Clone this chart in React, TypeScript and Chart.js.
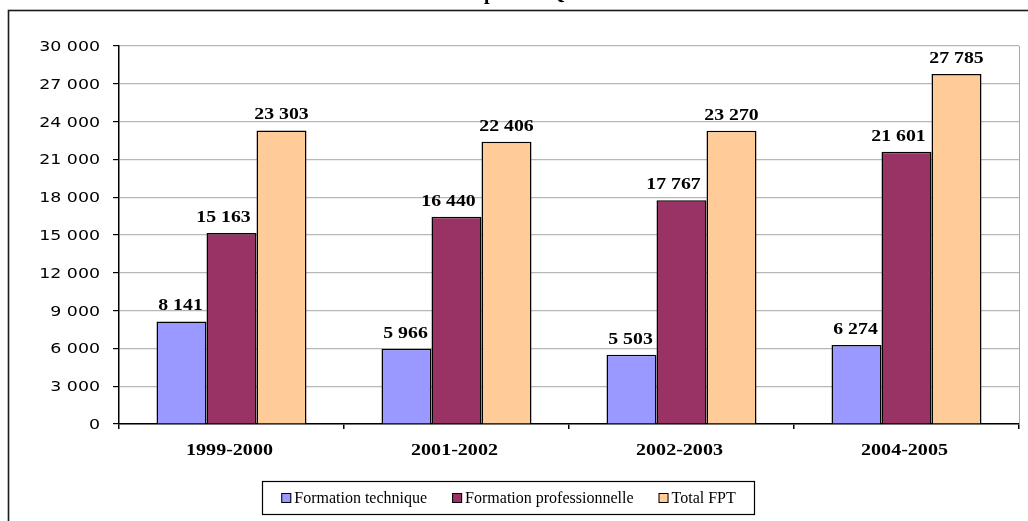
import React, { useEffect, useRef } from 'react';
import { Chart, registerables } from 'chart.js';

Chart.register(...registerables);

const categories = ['1999-2000', '2001-2002', '2002-2003', '2004-2005'];
const seriesLabels = ['Formation technique', 'Formation professionnelle', 'Total FPT'];
const technique = [8141, 5966, 5503, 6274];
const professionnelle = [15163, 16440, 17767, 21601];
const totalFPT = [23303, 22406, 23270, 27785];
const yMax = 30000;
const yStep = 3000;
const titleText = 'pour le Québec';

const W = 1028;
const H = 521;
const COLORS = ['#9999FF', '#993366', '#FFCC99'];
const LABEL_SHIFT = [-1, -8, 0];
const SERIF = '"Liberation Serif", "Times New Roman", serif';
const SANS = '"DejaVu Sans", Verdana, sans-serif';

const fmt = (v: number) => String(v).replace(/\B(?=(\d{3})+(?!\d))/g, ' ');

const stretchText = (ctx: CanvasRenderingContext2D, text: string, x: number, y: number, sx: number, align: CanvasTextAlign) => {
  ctx.save();
  ctx.translate(x, y);
  ctx.scale(sx, 1);
  ctx.textAlign = align;
  ctx.fillText(text, 0, 0);
  ctx.restore();
};

const decor = {
  id: 'decor',
  beforeDraw(chart: any) {
    const ctx = chart.ctx as CanvasRenderingContext2D;
    ctx.save();
    ctx.fillStyle = '#fff';
    ctx.fillRect(0, 0, W, H);
    ctx.strokeStyle = '#1a1a1a';
    ctx.lineWidth = 1.6;
    ctx.strokeRect(8.5, 10.5, W + 20, H + 20);
    ctx.fillStyle = '#000';
    ctx.font = 'bold 20px ' + SERIF;
    ctx.textBaseline = 'alphabetic';
    ctx.textAlign = 'left';
    ctx.fillText(titleText, 484, -1.5);
    ctx.restore();
  },
  afterDatasetsDraw(chart: any) {
    const ctx = chart.ctx as CanvasRenderingContext2D;
    const area = chart.chartArea;
    const ys = chart.scales.y;
    const xs = chart.scales.x;
    ctx.save();
    ctx.strokeStyle = '#a6a6a6';
    ctx.lineWidth = 1;
    ctx.beginPath();
    ctx.moveTo(area.right + 0.5, area.top);
    ctx.lineTo(area.right + 0.5, area.bottom);
    ctx.stroke();

    ctx.fillStyle = '#000';
    ctx.textBaseline = 'alphabetic';
    ctx.font = '14px ' + SANS;
    ys.ticks.forEach((t: any) => {
      const py = ys.getPixelForValue(t.value);
      stretchText(ctx, fmt(t.value), 100, py + 5, 1.24, 'right');
    });
    ctx.font = 'bold 17px ' + SERIF;
    categories.forEach((c, i) => {
      const px = xs.getPixelForValue(i);
      stretchText(ctx, c, px - 2, 455, 1.18, 'center');
    });
    ctx.font = 'bold 16.5px ' + SERIF;
    chart.data.datasets.forEach((ds: any, di: number) => {
      const meta = chart.getDatasetMeta(di);
      meta.data.forEach((bar: any, i: number) => {
        stretchText(ctx, fmt(ds.data[i]), bar.x + LABEL_SHIFT[di], bar.y - 11, 1.2, 'center');
      });
    });
    ctx.font = '16px ' + SERIF;
    const widths = seriesLabels.map((l) => ctx.measureText(l).width);
    const gap = 25;
    const total = widths.reduce((a, w) => a + 13 + w, 0) + gap * (widths.length - 1);
    const cx = 508.5;
    let x = cx - total / 2;
    ctx.strokeStyle = '#000';
    ctx.lineWidth = 1.2;
    ctx.strokeRect(Math.round(x - 19) + 0.5, 481.5, Math.round(total + 38), 33);
    seriesLabels.forEach((l, i) => {
      ctx.fillStyle = COLORS[i];
      ctx.fillRect(x, 493, 10, 10);
      ctx.strokeStyle = '#000';
      ctx.lineWidth = 1;
      ctx.strokeRect(x + 0.5, 493.5, 9, 9);
      ctx.fillStyle = '#000';
      ctx.textAlign = 'left';
      ctx.fillText(l, x + 13, 503);
      x += 13 + widths[i] + gap;
    });
    ctx.restore();
  },
};

export default function App() {
  const ref = useRef<HTMLCanvasElement | null>(null);
  useEffect(() => {
    if (!ref.current) return;
    const series = [technique, professionnelle, totalFPT];
    const chart = new Chart(ref.current, {
      type: 'bar',
      data: {
        labels: categories,
        datasets: series.map((d, i) => ({
          label: seriesLabels[i],
          data: d,
          backgroundColor: COLORS[i],
          borderColor: '#000',
          borderWidth: 1.5,
          categoryPercentage: 150 / 225,
          barPercentage: 1,
        })),
      },
      options: {
        animation: false,
        responsive: true,
        maintainAspectRatio: false,
        layout: { padding: { top: 46, right: 9, left: 0, bottom: 0 } },
        plugins: { legend: { display: false }, title: { display: false }, tooltip: { enabled: false } },
        scales: {
          x: {
            grid: { offset: true, drawOnChartArea: false, drawTicks: true, tickLength: 5, tickColor: '#000', color: '#000', lineWidth: 1.5 },
            border: { color: '#000', width: 1.5 },
            ticks: { display: false },
            afterFit: (s: any) => { s.height = H - 424; },
          },
          y: {
            min: 0,
            max: yMax,
            ticks: { stepSize: yStep, display: false },
            grid: { color: '#b8b8b8', lineWidth: 1.2, tickColor: '#000', tickLength: 6 },
            border: { color: '#000', width: 1.5 },
            afterFit: (s: any) => { s.width = 119; },
          },
        },
      },
      plugins: [decor],
    });
    return () => chart.destroy();
  }, []);
  return (
    <div style={{ position: 'fixed', left: 0, top: 0, width: W, height: H, background: '#fff' }}>
      <canvas ref={ref} />
    </div>
  );
}
